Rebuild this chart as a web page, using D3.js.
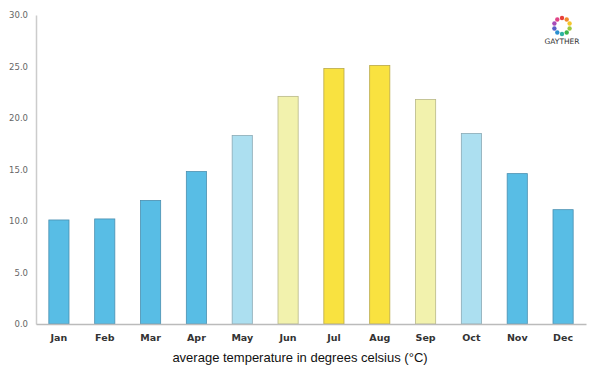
<!DOCTYPE html>
<html>
<head>
<meta charset="utf-8">
<script src="https://cdn.jsdelivr.net/npm/d3@7"></script>
<style>
  body { margin: 0; background: #fff; }
</style>
</head>
<body>
<div id="chart"></div>
<script>
// monthly average temperatures
const months = ["Jan", "Feb", "Mar", "Apr", "May", "Jun", "Jul", "Aug", "Sep", "Oct", "Nov", "Dec"]
const temps = [10.1, 10.2, 12.0, 14.8, 18.3, 22.1, 24.8, 25.1, 21.8, 18.5, 14.6, 11.1]
const yTicks = [0, 5, 10, 15, 20, 25, 30]
// colour per month by season band
const fills = ["#58bde5", "#58bde5", "#58bde5", "#58bde5", "#acdff0", "#f2f2ad", "#f9e240", "#f9e240", "#f2f2ad", "#acdff0", "#58bde5", "#58bde5"]
const strokes = ["#4a8fb0", "#4a8fb0", "#4a8fb0", "#4a8fb0", "#8aaab5", "#b8b888", "#b8a848", "#b8a848", "#b8b888", "#8aaab5", "#4a8fb0", "#4a8fb0"]
const logoColors = ["#e8403a", "#f08a2c", "#f5c52a", "#9cc93c", "#3bb54a", "#2eb3a2", "#2a8fd0", "#5a5fc8", "#a74bb8", "#e04487"]

const width = 600
const height = 375
const margin = {top: 15, right: 14, bottom: 51, left: 36}

const svg = d3.select("#chart").append("svg").attr("width", width).attr("height", height)

const xscale = d3.scaleBand()
  .domain(months)
  .range([margin.left, width - margin.right])
  .paddingInner(0.56)
  .paddingOuter(0.28)

const yscale = d3.scaleLinear()
  .domain([0, 30])
  .range([height - margin.bottom, margin.top])

// y axis
const yAxis = svg.append("g")
  .attr("transform", `translate(${margin.left},0)`)
  .call(d3.axisLeft(yscale).tickValues(yTicks).tickFormat(d3.format(".1f")).tickSize(0).tickPadding(8))
yAxis.select(".domain").attr("stroke", "#ccc").attr("stroke-width", 1.5)
yAxis.selectAll("text")
  .attr("font-family", "DejaVu Sans")
  .attr("font-size", 8.5)
  .attr("fill", "#666")

// bars
svg.append("g")
  .selectAll("rect")
  .data(temps)
  .join("rect")
  .attr("x", (d, i) => xscale(months[i]))
  .attr("y", d => yscale(d))
  .attr("width", xscale.bandwidth())
  .attr("height", d => yscale(0) - yscale(d))
  .attr("fill", (d, i) => fills[i])
  .attr("stroke", (d, i) => strokes[i])
  .attr("stroke-width", 0.8)

// x axis
const xAxis = svg.append("g")
  .attr("transform", `translate(0,${height - margin.bottom})`)
  .call(d3.axisBottom(xscale).tickSize(0).tickPadding(10))
xAxis.select(".domain").attr("stroke", "#bbb").attr("stroke-width", 1.5)
xAxis.selectAll("text")
  .attr("font-family", "DejaVu Sans")
  .attr("font-size", 9.5)
  .attr("font-weight", "bold")
  .attr("fill", "#333")

// axis title
svg.append("text")
  .attr("x", 300)
  .attr("y", 362)
  .attr("text-anchor", "middle")
  .attr("font-family", "Liberation Sans, Arial, sans-serif")
  .attr("font-size", 13)
  .attr("fill", "#111")
  .text("average temperature in degrees celsius (°C)")

// logo
const logo = svg.append("g").attr("transform", "translate(562,26)")
logo.selectAll("circle")
  .data(logoColors)
  .join("circle")
  .attr("cx", (d, i) => 8 * Math.cos(i / logoColors.length * 2 * Math.PI - Math.PI / 2))
  .attr("cy", (d, i) => 8 * Math.sin(i / logoColors.length * 2 * Math.PI - Math.PI / 2))
  .attr("r", 2.2)
  .attr("fill", d => d)
logo.append("text")
  .attr("x", 0)
  .attr("y", 18)
  .attr("text-anchor", "middle")
  .attr("font-family", "DejaVu Sans")
  .attr("font-size", 7.5)
  .attr("fill", "#333")
  .text("GAYTHER")
</script>
</body>
</html>
